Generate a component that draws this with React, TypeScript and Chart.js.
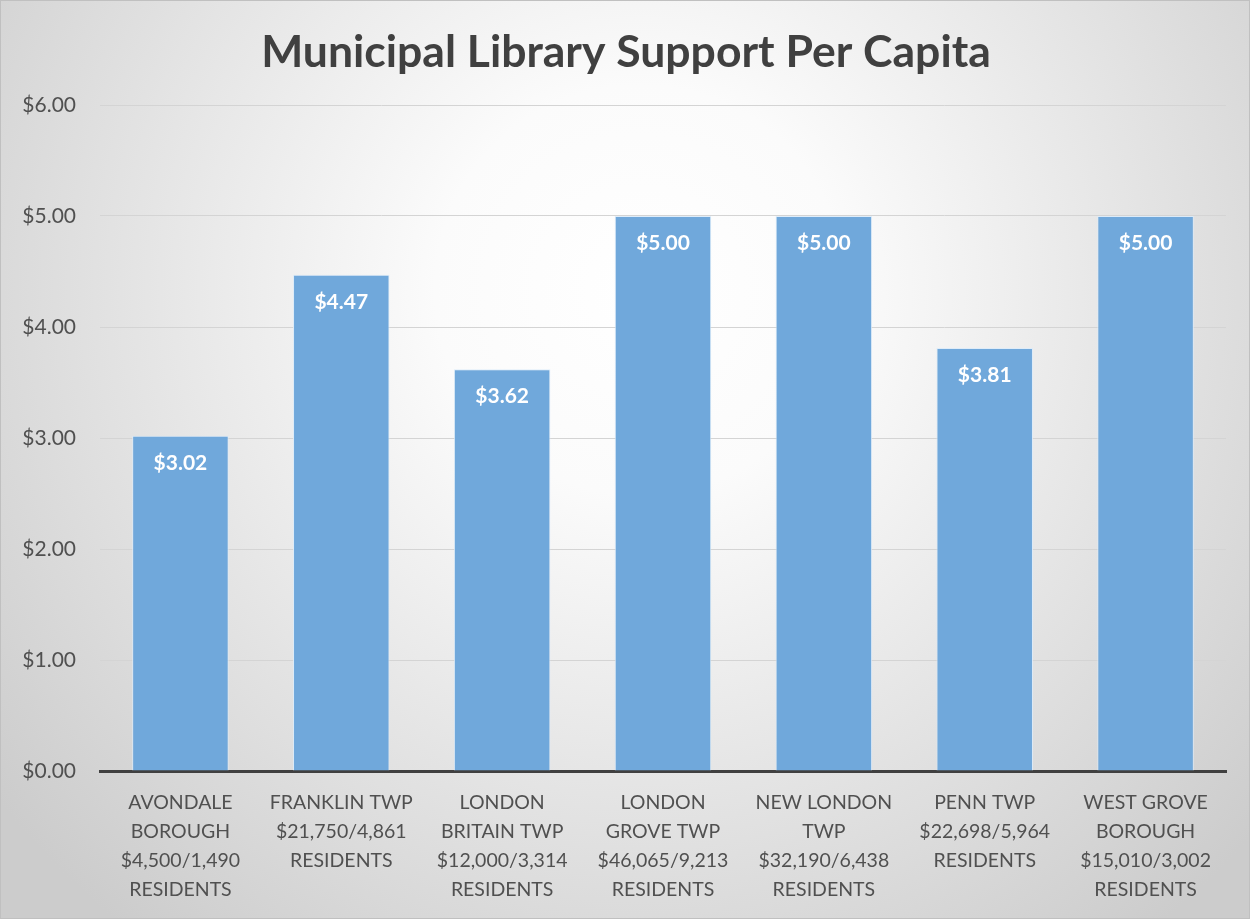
import React, { useEffect, useRef } from "react";
import { Chart, registerables } from "chart.js";

Chart.register(...registerables);

const TITLE = "Municipal Library Support Per Capita";

const categories: string[][] = [
  ["AVONDALE", "BOROUGH", "$4,500/1,490", "RESIDENTS"],
  ["FRANKLIN TWP", "$21,750/4,861", "RESIDENTS"],
  ["LONDON", "BRITAIN TWP", "$12,000/3,314", "RESIDENTS"],
  ["LONDON", "GROVE TWP", "$46,065/9,213", "RESIDENTS"],
  ["NEW LONDON", "TWP", "$32,190/6,438", "RESIDENTS"],
  ["PENN TWP", "$22,698/5,964", "RESIDENTS"],
  ["WEST GROVE", "BOROUGH", "$15,010/3,002", "RESIDENTS"],
];

const perCapita: number[] = [3.02, 4.47, 3.62, 5.0, 5.0, 3.81, 5.0];

const yTicks: number[] = [0, 1, 2, 3, 4, 5, 6];

const FONT = "Lato, 'Open Sans', sans-serif";

const backgroundPlugin = {
  id: "bgPlugin",
  beforeDraw(chart: any) {
    const { ctx, width, height } = chart;
    ctx.save();
    const g = ctx.createRadialGradient(640, 290, 0, 640, 290, 820);
    g.addColorStop(0, "#ffffff");
    g.addColorStop(0.25, "#fbfbfb");
    g.addColorStop(1, "#cccccc");
    ctx.fillStyle = g;
    ctx.fillRect(0, 0, width, height);
    ctx.strokeStyle = "#c0c0c0";
    ctx.lineWidth = 1;
    ctx.strokeRect(0.5, 0.5, width - 1, height - 1);
    ctx.restore();
  },
  afterDraw(chart: any) {
    const { ctx, width } = chart;
    ctx.save();
    ctx.fillStyle = "#404040";
    ctx.font = `bold 44.5px ${FONT}`;
    ctx.textAlign = "center";
    ctx.textBaseline = "alphabetic";
    ctx.fillText(TITLE, width / 2 + 1, 67);
    ctx.restore();
  },
};

const labelPlugin = {
  id: "valueLabels",
  afterDatasetsDraw(chart: any) {
    const { ctx } = chart;
    const meta = chart.getDatasetMeta(0);
    const data = chart.data.datasets[0].data as number[];
    ctx.save();
    ctx.fillStyle = "#ffffff";
    ctx.font = `bold 21px ${FONT}`;
    ctx.textAlign = "center";
    ctx.textBaseline = "middle";
    meta.data.forEach((bar: any, i: number) => {
      ctx.fillText("$" + data[i].toFixed(2), bar.x, bar.y + 27);
    });
    ctx.restore();
  },
};

export default function App() {
  const ref = useRef<HTMLCanvasElement | null>(null);

  useEffect(() => {
    document.body.style.margin = "0";
    if (!ref.current) return;
    const chart = new Chart(ref.current, {
      type: "bar",
      data: {
        labels: categories,
        datasets: [
          {
            data: perCapita,
            backgroundColor: "#70a8db",
            borderColor: "rgba(220,235,250,0.9)",
            borderWidth: 1,
            categoryPercentage: 1,
            barPercentage: 0.6,
          },
        ],
      },
      options: {
        responsive: false,
        animation: false,
        devicePixelRatio: 1,
        layout: { padding: { top: 105, right: 24, left: 0, bottom: 0 } },
        plugins: {
          legend: { display: false },
          title: { display: false },
          tooltip: { enabled: false },
        },
        scales: {
          x: {
            grid: { display: false, drawTicks: false },
            border: { display: true, color: "#404040", width: 3 },
            ticks: {
              color: "#505050",
              font: { family: FONT, size: 19.5, lineHeight: "29px" } as any,
              padding: 17,
              maxRotation: 0,
              autoSkip: false,
            },
            afterFit(scale: any) {
              scale.height = 148;
            },
          },
          y: {
            min: 0,
            max: 6,
            afterBuildTicks(scale: any) {
              scale.ticks = yTicks.map((v) => ({ value: v }));
            },
            grid: { color: "#d4d4d4", lineWidth: 1, drawTicks: false },
            border: { display: false },
            ticks: {
              color: "#505050",
              font: { family: FONT, size: 21 },
              padding: 24,
              callback: (v: any) => "$" + Number(v).toFixed(2),
            },
            afterFit(scale: any) {
              scale.width = 100;
            },
          },
        },
      },
      plugins: [backgroundPlugin, labelPlugin],
    });
    return () => chart.destroy();
  }, []);

  return (
    <div style={{ width: 1250, height: 919 }}>
      <canvas ref={ref} width={1250} height={919} style={{ display: "block" }} />
    </div>
  );
}
